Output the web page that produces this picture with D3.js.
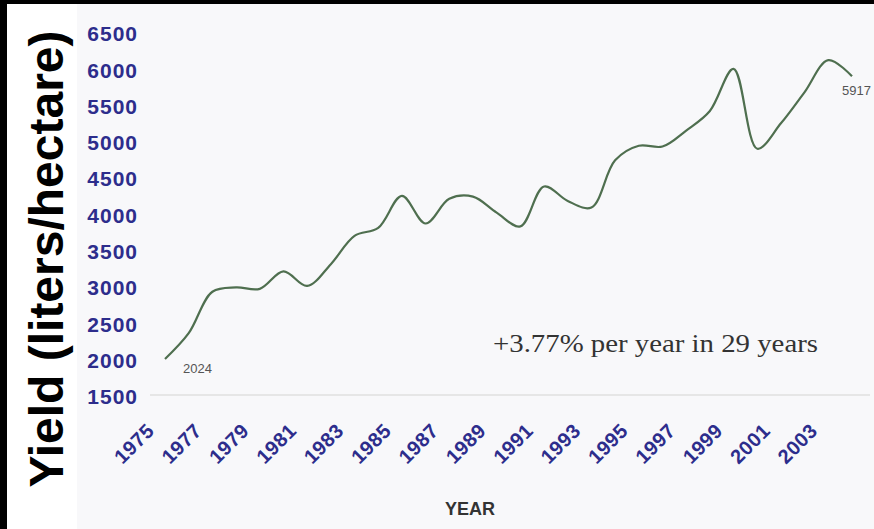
<!DOCTYPE html>
<html>
<head>
<meta charset="utf-8">
<script src="https://cdn.jsdelivr.net/npm/d3@7"></script>
<style>
    body { margin: 0; background: #fff; }
    svg { display: block; }
    .tick text { font-family: 'Liberation Sans', Arial, sans-serif; font-weight: bold; fill: #2d2d8c; }
</style>
</head>
<body>
<script>
// yield per year
const years = [1975, 1976, 1977, 1978, 1979, 1980, 1981, 1982, 1983, 1984,
    1985, 1986, 1987, 1988, 1989, 1990, 1991, 1992, 1993, 1994,
    1995, 1996, 1997, 1998, 1999, 2000, 2001, 2002, 2003, 2004];
const yields = [2024, 2380, 2950, 3010, 2990, 3230, 3030, 3330, 3720, 3830,
    4270, 3890, 4230, 4260, 4040, 3850, 4400, 4200, 4110, 4760,
    4960, 4950, 5170, 5440, 6020, 4920, 5270, 5700, 6140, 5917];
const xTicks = [1975, 1977, 1979, 1981, 1983, 1985, 1987, 1989, 1991, 1993,
    1995, 1997, 1999, 2001, 2003];
const yTicks = [1500, 2000, 2500, 3000, 3500, 4000, 4500, 5000, 5500, 6000, 6500];
const growthNote = '+3.77% per year in 29 years';

const W = 874, H = 529;

const svg = d3.select('body')
    .append('svg')
    .attr('width', W)
    .attr('height', H);

// frame: black strips top / left, light panel for the plot
svg.append('rect').attr('width', W).attr('height', H).attr('fill', '#000');
svg.append('rect').attr('x', 7).attr('y', 4).attr('width', W - 7).attr('height', H - 4).attr('fill', '#fff');
svg.append('rect').attr('x', 77).attr('y', 4).attr('width', W - 77).attr('height', H - 4).attr('fill', '#f8f8fa');

const x = d3.scaleLinear()
    .domain([1975, 2004])
    .range([165, 852]);

const y = d3.scaleLinear()
    .domain([1500, 6500])
    .range([397, 34]);

// faint baseline
svg.append('line')
    .attr('x1', 150).attr('x2', 870)
    .attr('y1', y(1500) - 2).attr('y2', y(1500) - 2)
    .attr('stroke', '#e6e6e6')
    .attr('stroke-width', 2);

const yAxis = d3.axisLeft(y)
    .tickValues(yTicks)
    .tickSize(0)
    .tickPadding(0)
    .tickFormat(d3.format('d'));

svg.append('g')
    .attr('class', 'y axis')
    .attr('transform', 'translate(138,0)')
    .call(yAxis)
    .call(g => g.select('.domain').remove())
    .selectAll('text')
    .attr('font-size', 21)
    .attr('letter-spacing', 1);

const xAxis = d3.axisBottom(x)
    .tickValues(xTicks)
    .tickSize(0)
    .tickFormat(d3.format('d'));

svg.append('g')
    .attr('class', 'x axis')
    .attr('transform', 'translate(0,' + y(1500) + ')')
    .call(xAxis)
    .call(g => g.select('.domain').remove())
    .selectAll('text')
    .attr('x', 0)
    .attr('y', 0)
    .attr('dy', 0)
    .attr('font-size', 20)
    .attr('letter-spacing', 0.5)
    .attr('text-anchor', 'end')
    .attr('transform', 'translate(-10,35) rotate(-45)');

const line = d3.line()
    .x(function(d, i) { return x(years[i]); })
    .y(function(d) { return y(d); })
    .curve(d3.curveCatmullRom.alpha(0.5));

svg.append('path')
    .datum(yields)
    .attr('d', line)
    .attr('fill', 'none')
    .attr('stroke', '#4f6f4f')
    .attr('stroke-width', 2.2);

// first / last values
const last = yields.length - 1;
svg.append('text')
    .attr('x', x(years[0]) + 18)
    .attr('y', y(yields[0]) + 14)
    .attr('font-family', 'Liberation Sans, Arial, sans-serif')
    .attr('font-size', 13)
    .attr('fill', '#555')
    .text(yields[0]);

svg.append('text')
    .attr('x', x(years[last]) - 10)
    .attr('y', y(yields[last]) + 19)
    .attr('font-family', 'Liberation Sans, Arial, sans-serif')
    .attr('font-size', 13)
    .attr('fill', '#555')
    .text(yields[last]);

svg.append('text')
    .attr('x', 493)
    .attr('y', 352)
    .attr('font-family', 'Liberation Serif, Times New Roman, serif')
    .attr('font-size', 25)
    .attr('textLength', 325)
    .attr('lengthAdjust', 'spacingAndGlyphs')
    .attr('fill', '#333')
    .text(growthNote);

// axis titles
svg.append('text')
    .attr('x', 470)
    .attr('y', 515)
    .attr('text-anchor', 'middle')
    .attr('font-family', 'Liberation Sans, Arial, sans-serif')
    .attr('font-weight', 'bold')
    .attr('font-size', 18)
    .attr('fill', '#333')
    .text('YEAR');

svg.append('text')
    .attr('transform', 'translate(63,259) rotate(-90)')
    .attr('text-anchor', 'middle')
    .attr('font-family', 'Liberation Sans, Arial, sans-serif')
    .attr('font-weight', 'bold')
    .attr('font-size', 48)
    .attr('fill', '#000')
    .text('Yield (liters/hectare)');
</script>
</body>
</html>
